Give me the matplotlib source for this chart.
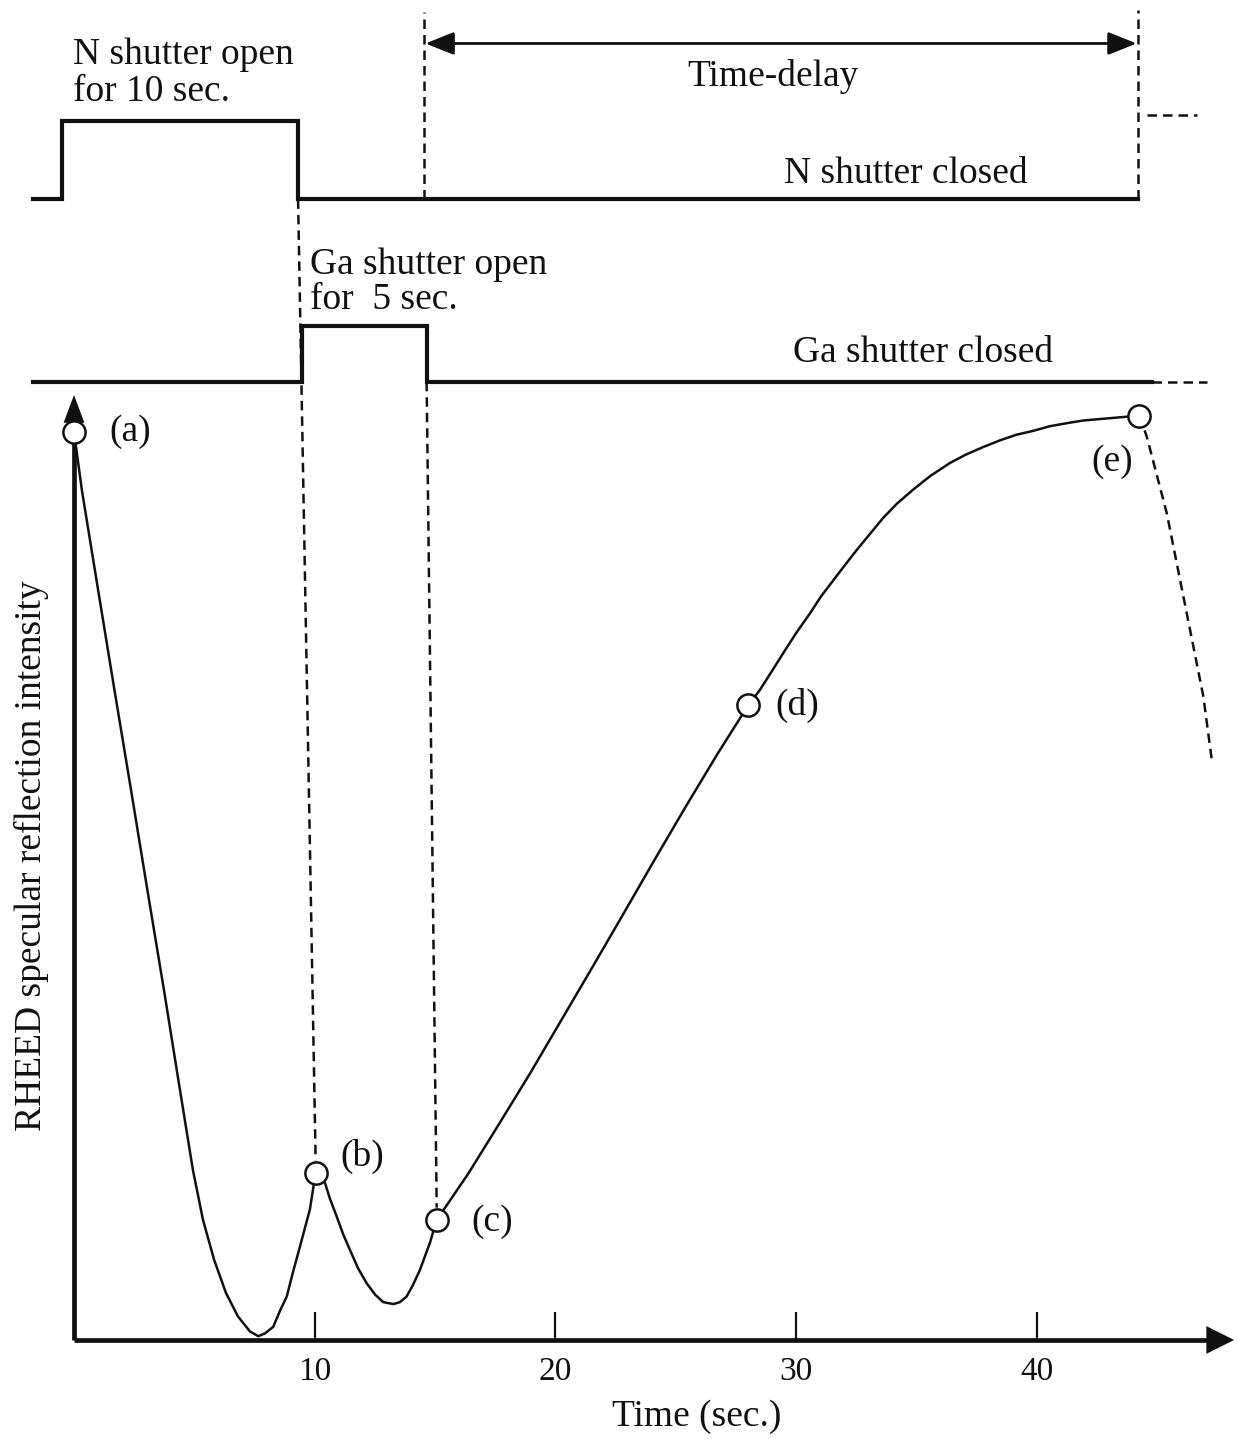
import matplotlib
matplotlib.use("Agg")
import matplotlib.pyplot as plt

plt.rcParams["font.family"] = ["Liberation Serif", "DejaVu Serif"]

# RHEED specular intensity trace (time in s, intensity in arbitrary units)
curve_t = [0.00, 0.33, 1.00, 1.68, 2.37, 3.05, 3.74, 4.40, 4.94, 5.36, 5.82, 6.31, 6.81,
           7.31, 7.66, 7.94, 8.28, 8.56, 8.84, 9.10, 9.39, 9.60, 9.80, 10.04,
           10.43, 10.64, 10.91, 11.18, 11.47, 11.80, 12.16, 12.51, 12.85, 13.27, 13.54,
           13.82, 14.08, 14.37, 14.79, 15.07,
           16.38, 17.67, 18.97, 20.26, 21.55, 22.85, 24.14, 25.43, 26.73, 28.02,
           28.50, 29.00, 29.47, 30.00, 30.58, 31.04, 31.55, 32.03, 32.52, 33.07, 33.62,
           34.19, 34.87, 35.56, 36.39, 37.06, 37.78, 38.47, 39.16, 39.84, 40.55, 41.21,
           41.93, 42.83, 43.73, 44.26]
curve_i = [96.1, 89.9, 79.4, 68.8, 58.2, 47.6, 37.0, 26.5, 18.0, 12.7, 8.5, 5.0, 2.5,
           0.9, 0.4, 0.7, 1.4, 3.1, 4.6, 7.2, 9.9, 11.9, 13.8, 17.7,
           16.6, 14.9, 13.1, 11.2, 9.5, 7.6, 6.0, 4.8, 4.0, 3.8, 4.0,
           4.6, 5.8, 7.4, 10.3, 12.7,
           17.6, 22.9, 28.3, 33.9, 39.5, 45.2, 50.9, 56.5, 62.0, 67.2,
           68.8, 70.8, 72.7, 74.8, 76.9, 78.7, 80.4, 82.0, 83.6, 85.3, 87.0,
           88.5, 90.0, 91.4, 92.8, 93.7, 94.5, 95.2, 95.8, 96.2, 96.7, 97.0,
           97.3, 97.5, 97.7, 97.8]

# intensity drop once the next cycle starts
drop_t = [44.26, 44.57, 45.40, 46.23, 46.92, 47.27]
drop_i = [97.8, 95.6, 87.5, 76.9, 68.1, 61.4]

# marked stages (a)-(e)
stage_labels = ["(a)", "(b)", "(c)", "(d)", "(e)"]
stage_t = [0.00, 10.04, 15.07, 28.02, 44.26]
stage_i = [96.1, 17.7, 12.7, 67.2, 97.8]

# shutter timing (s)
n_open, n_close = -0.50, 9.31
ga_open, ga_close = 9.47, 14.65
cycle_end = 44.2

x_ticks = [10, 20, 30, 40]

# levels of the timing traces drawn above the intensity axis
N_LOW, N_HIGH = 120.7, 129.0
GA_LOW, GA_HIGH = 101.4, 107.3
TRACE_START = -1.70

fig = plt.figure(figsize=(12.38, 14.39), dpi=100)
ax = fig.add_axes([0, 0, 1, 1])
ax.set_xlim(-3.074, 48.36)
ax.set_ylim(-10.48, 141.80)
ax.axis("off")

black = "#111111"
dash = (0, (3.8, 2.4))
fs = 27

# N shutter trace
ax.plot([TRACE_START, n_open, n_open, n_close, n_close, cycle_end],
        [N_LOW, N_LOW, N_HIGH, N_HIGH, N_LOW, N_LOW],
        color=black, lw=3.0, solid_joinstyle="miter")
ax.plot([cycle_end + 0.38, 46.66], [N_HIGH + 0.6, N_HIGH + 0.6],
        color=black, lw=1.8, linestyle=dash)

# Ga shutter trace
ga_solid_end = 44.79
ax.plot([TRACE_START, ga_open, ga_open, ga_close, ga_close, ga_solid_end],
        [GA_LOW, GA_LOW, GA_HIGH, GA_HIGH, GA_LOW, GA_LOW],
        color=black, lw=3.0, solid_joinstyle="miter")
ax.plot([ga_solid_end, 47.07], [GA_LOW, GA_LOW], color=black, lw=1.8, linestyle=dash)

# time-delay markers
ax.plot([ga_close - 0.1, ga_close - 0.1], [N_LOW, 140.5], color=black, lw=1.8, linestyle=dash)
ax.plot([cycle_end, cycle_end], [N_LOW, 140.7], color=black, lw=1.8, linestyle=dash)
ax.annotate("", xy=(cycle_end - 0.05, 137.2), xytext=(ga_close - 0.05, 137.2),
            arrowprops=dict(arrowstyle="<|-|>,head_length=0.7,head_width=0.28",
                            lw=2.0, color=black, mutation_scale=25,
                            shrinkA=0, shrinkB=0))

# guides from shutter edges down to the trace
ax.plot([n_close, stage_t[1]], [N_LOW, stage_i[1] + 1.3], color=black, lw=1.8, linestyle=dash)
ax.plot([ga_close, stage_t[2]], [GA_LOW, stage_i[2] + 1.3], color=black, lw=1.8, linestyle=dash)

# axes with arrow heads
ax.plot([0, 0], [0, 97], color=black, lw=3.4, solid_capstyle="butt")
ax.annotate("", xy=(0, 100), xytext=(0, 95),
            arrowprops=dict(arrowstyle="-|>,head_length=0.8,head_width=0.3",
                            lw=0, color=black, mutation_scale=25,
                            shrinkA=0, shrinkB=0))
ax.plot([0, 47.5], [0, 0], color=black, lw=3.4, solid_capstyle="butt")
ax.annotate("", xy=(48.2, 0), xytext=(46.5, 0),
            arrowprops=dict(arrowstyle="-|>,head_length=0.8,head_width=0.4",
                            lw=0, color=black, mutation_scale=25,
                            shrinkA=0, shrinkB=0))
ax.vlines(x_ticks, 0, 3.0, color=black, lw=1.6)
for t in x_ticks:
    ax.text(t, -3.4, str(t), ha="center", va="center", fontsize=24, color=black)
ax.text(25.88, -8.15, "Time (sec.)", ha="center", va="center", fontsize=fs, color=black)
ax.text(-1.75, 51.3, "RHEED specular reflection intensity", rotation=90,
        ha="center", va="center", fontsize=27, color=black)

# intensity trace
ax.plot(curve_t, curve_i, color=black, lw=1.8, zorder=3, solid_joinstyle="round")
ax.plot(drop_t, drop_i, color=black, lw=1.8, linestyle=dash, zorder=3)
ax.plot(stage_t, stage_i, linestyle="none", marker="o", markersize=16,
        markerfacecolor="white", markeredgecolor=black, markeredgewidth=1.8, zorder=4)

label_offsets = [(2.33, 0.0), (1.93, 1.7), (2.30, -0.2), (2.02, -0.1), (-1.14, -4.9)]
for lab, t, i, (dx, dy) in zip(stage_labels, stage_t, stage_i, label_offsets):
    ax.text(t + dx, i + dy, lab, ha="center", va="center", fontsize=fs, color=black)

# annotations
ax.text(-0.04, 137.8, "N shutter open\nfor 10 sec.", ha="left", va="top",
        fontsize=fs, linespacing=1.1, color=black)
ax.text(29.04, 133.7, "Time-delay", ha="center", va="center", fontsize=fs, color=black)
ax.text(34.57, 123.4, "N shutter closed", ha="center", va="center", fontsize=fs, color=black)
ax.text(9.80, 115.6, "Ga shutter open\nfor  5 sec.", ha="left", va="top",
        fontsize=fs, linespacing=1.0, color=black)
ax.text(35.27, 104.5, "Ga shutter closed", ha="center", va="center", fontsize=fs, color=black)

fig.savefig("out.png", dpi=100)
